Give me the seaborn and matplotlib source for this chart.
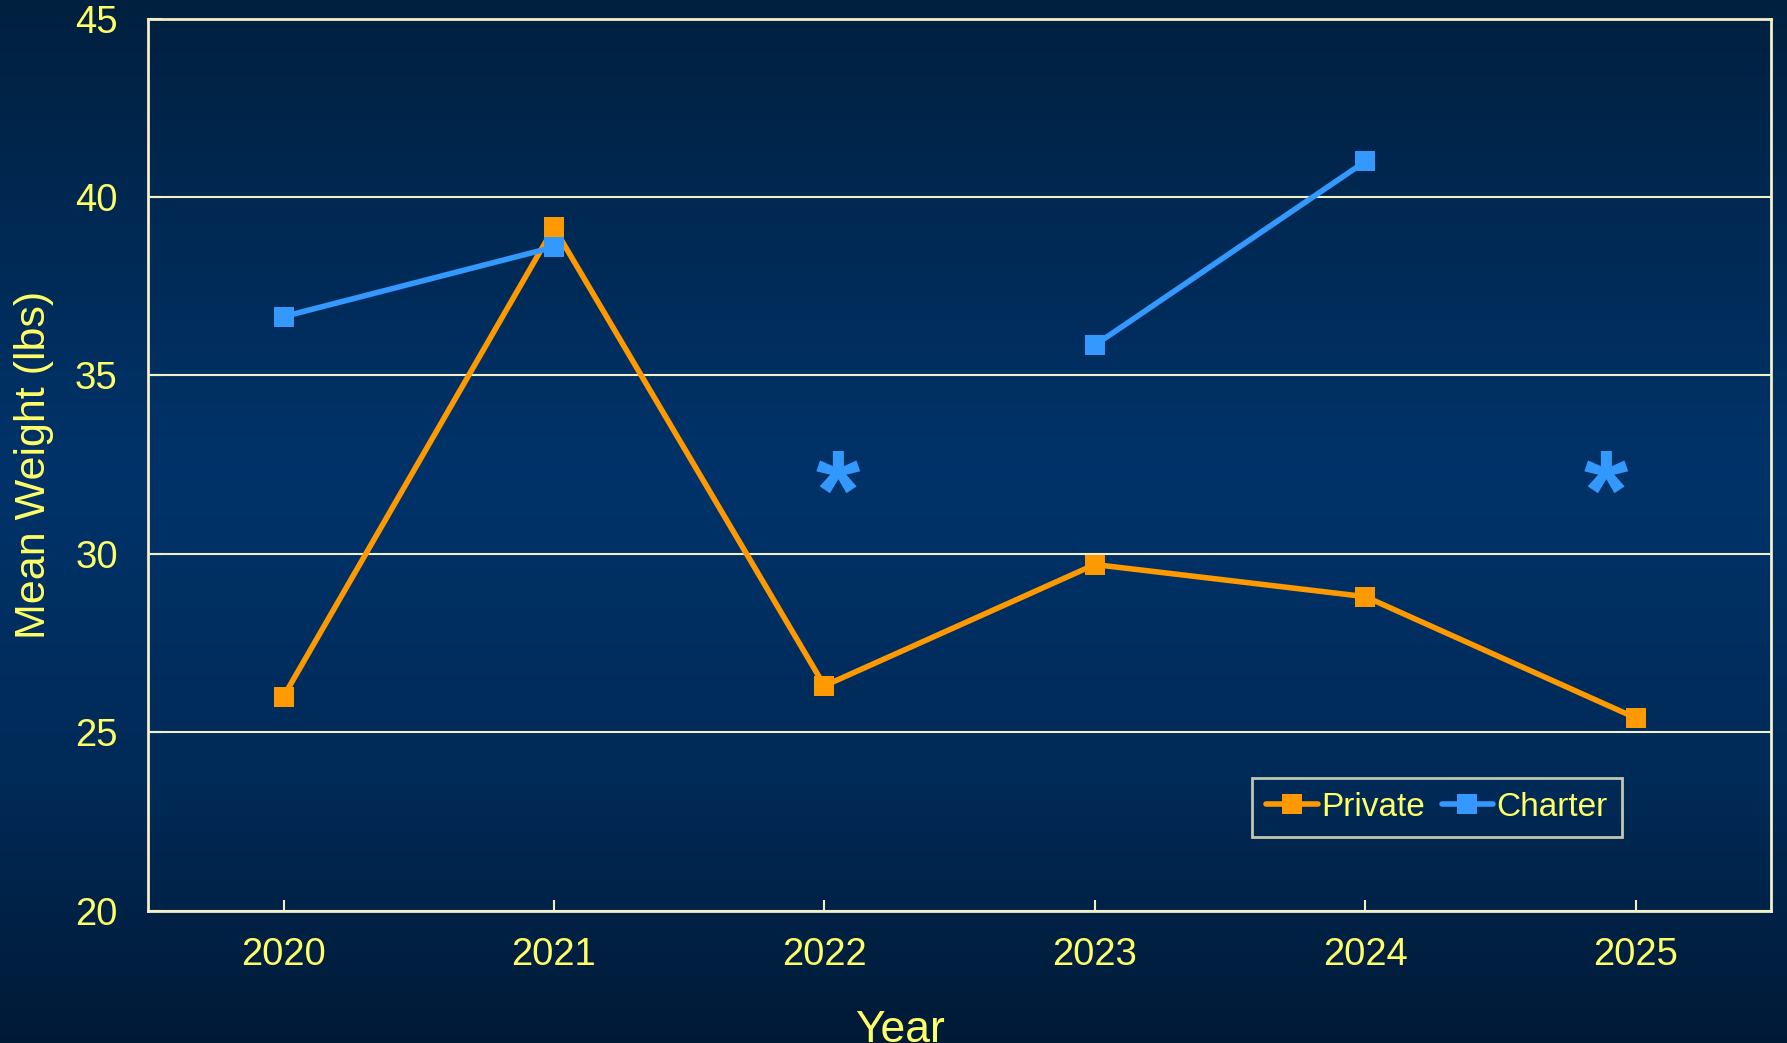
import numpy as np
import pandas as pd
import matplotlib
matplotlib.use("Agg")
import matplotlib.pyplot as plt
import seaborn as sns
from matplotlib.colors import LinearSegmentedColormap

# === data ===
years = [2020, 2021, 2022, 2023, 2024, 2025]
private = [26.0, 39.15, 26.3, 29.7, 28.8, 25.4]
charter = [36.65, 38.6, np.nan, 35.85, 41.0, np.nan]
star_x = [2022.05, 2024.89]      # charter years marked with *
star_y = [31.5, 31.5]

series_names = ["Private", "Charter"]
colors = {"Private": "#FF9900", "Charter": "#3399FF"}
yellow = "#FFFF66"
grid_col = "#F2F0C8"

# long table, with a segment id so that gaps in charter stay gaps
rows = []
for name, vals in zip(series_names, [private, charter]):
    seg = 0
    for yr, v in zip(years, vals):
        if np.isnan(v):
            seg += 1
            continue
        rows.append({"Year": yr, "Weight": v, "Series": name, "seg": f"{name}{seg}"})
df = pd.DataFrame(rows)

sns.set_theme(style="white")
plt.rcParams["font.family"] = ["Liberation Sans", "DejaVu Sans"]

fig = plt.figure(figsize=(17.87, 10.43), dpi=100)

# background gradient
bg = fig.add_axes([0, 0, 1, 1], zorder=-10)
cmap = LinearSegmentedColormap.from_list(
    "bg", [(0.0, "#00203F"), (0.45, "#00336A"), (0.75, "#002A57"), (1.0, "#001A36")])
bg.imshow(np.linspace(0, 1, 256).reshape(-1, 1), aspect="auto", cmap=cmap,
          extent=[0, 1, 1, 0])
bg.set_axis_off()

ax = fig.add_axes([0.083, 0.127, 0.908, 0.855])
ax.patch.set_alpha(0)

sns.lineplot(data=df, x="Year", y="Weight", hue="Series", units="seg",
             estimator=None, palette=colors, hue_order=series_names,
             marker="s", markersize=15, markeredgewidth=0, linewidth=4,
             ax=ax)

for x, y in zip(star_x, star_y):
    ax.text(x, y, "*", color=colors["Charter"], fontsize=82,
            ha="center", va="center", fontweight="bold")

ax.set_xlim(2019.5, 2025.5)
ax.set_ylim(20, 45)
ax.set_xticks(years)
ax.set_yticks([20, 25, 30, 35, 40, 45])
ax.yaxis.grid(True, color=grid_col, linewidth=1.5)
ax.set_axisbelow(True)
for s in ax.spines.values():
    s.set_color(grid_col)
    s.set_linewidth(2)

ax.tick_params(axis="x", direction="in", length=8, width=1.5, color=grid_col,
               labelcolor=yellow, labelsize=27.5, pad=19, bottom=True)
ax.tick_params(axis="y", direction="in", length=10, width=1.5, color=grid_col,
               labelcolor=yellow, labelsize=27.5, pad=22, left=True)

# the reference crops the bottom of "Year" at the figure edge
ax.set_xlabel("Year", color=yellow, fontsize=32)
ax.xaxis.set_label_coords(0.463, -0.111, transform=ax.transAxes)
ax.xaxis.label.set_va("top")
ax.set_ylabel("Mean Weight (lbs)", color=yellow, fontsize=31, labelpad=15)

leg = ax.legend(loc="lower left", bbox_to_anchor=(0.670, 0.064), ncol=2,
                fontsize=24, frameon=True, fancybox=False,
                handlelength=1.55, handletextpad=0.1, columnspacing=0.5,
                borderpad=0.42)
leg.get_frame().set_facecolor("none")
leg.get_frame().set_edgecolor(grid_col)
leg.get_frame().set_linewidth(2)
for t in leg.get_texts():
    t.set_color(yellow)

fig.savefig("out.png", dpi=100)
